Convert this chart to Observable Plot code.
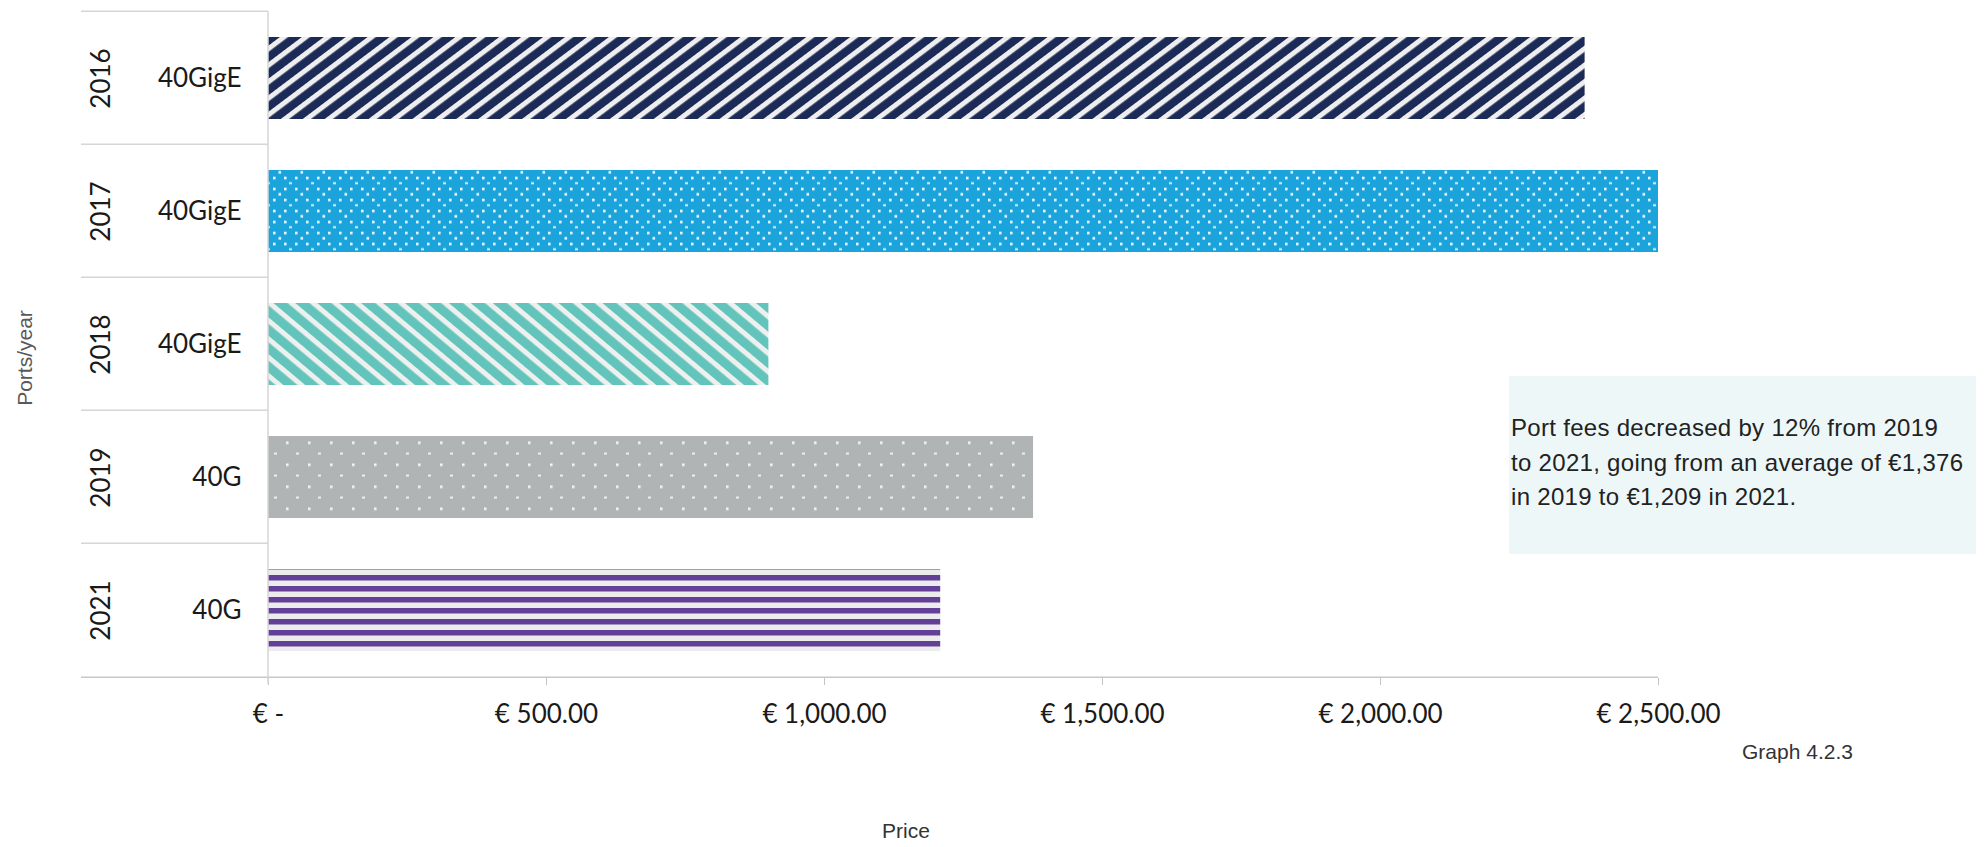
<!DOCTYPE html>
<html>
<head>
<meta charset="utf-8">
<script src="https://cdn.jsdelivr.net/npm/d3@7"></script>
<script src="https://cdn.jsdelivr.net/npm/@observablehq/plot@0.6"></script>
<style>
  html, body { margin: 0; padding: 0; background: #fff; }
  #wrap { position: relative; width: 1987px; height: 847px; overflow: hidden; background: #fff; }
  #chart svg { display: block; }
  .lbl { position: absolute; font-family: "Liberation Sans", Arial, sans-serif; white-space: nowrap; line-height: 20px; }
  #ytitle { left: 25px; top: 358px; font-size: 21px; color: #595959; transform: translate(-50%, -50%) rotate(-90deg); }
  #xtitle { left: 906px; top: 821px; font-size: 21px; color: #333; transform: translateX(-50%); }
  #caption { left: 1742px; top: 742px; font-size: 21px; color: #333; }
  #note { position: absolute; left: 1509px; top: 376px; width: 467px; height: 178px; background: #eef7f8;
          font-family: "Liberation Sans", Arial, sans-serif; font-size: 24px; letter-spacing: 0.3px; line-height: 34.5px;
          color: #222; box-sizing: border-box; padding: 35px 0 0 2px; white-space: nowrap; }
</style>
</head>
<body>
<div id="wrap">
  <div id="chart"></div>
  <div id="ytitle" class="lbl"></div>
  <div id="xtitle" class="lbl"></div>
  <div id="caption" class="lbl"></div>
  <div id="note"></div>
</div>
<script>
// ---- data ----
const years  = ["2016", "2017", "2018", "2019", "2021"];
const ports  = ["40GigE", "40GigE", "40GigE", "40G", "40G"];
const prices = [2368, 2500, 900, 1376, 1209];
const xTicks = [0, 500, 1000, 1500, 2000, 2500];
const yTitle = "Ports/year";
const xTitle = "Price";
const caption = "Graph 4.2.3";
const noteLines = [
  "Port fees decreased by 12% from 2019",
  "to 2021, going from an average of €1,376",
  "in 2019 to €1,209 in 2021."
];
const baseColors = ["#1b2a56", "#1ba3dc", "#62c4ba", "#b1b4b5", "#633f98"];

const data = years.map((year, i) => ({year, port: ports[i], price: prices[i]}));

const W = 1987, H = 847;
const plot = Plot.plot({
  width: W,
  height: H,
  marginLeft: 268,
  marginRight: 329,
  marginTop: 10,
  marginBottom: 169,
  style: {fontFamily: "Lato, 'Open Sans', sans-serif", fontSize: "26px", color: "#1a1a1a", background: "transparent"},
  x: {
    domain: [0, 2500],
    ticks: xTicks,
    tickFormat: d => d === 0 ? "€ -" : "€ " + d3.format(",.2f")(d),
    tickSize: 7,
    tickPadding: 19,
    label: null
  },
  y: {domain: years, paddingInner: 0.386, paddingOuter: 0.193, axis: null, label: null},
  color: {domain: years, range: years.map(y => `url(#pat${y})`)},
  marks: [
    Plot.barX(data, {x: "price", y: "year", fill: "year"}),
    Plot.text(data, {y: "year", text: "year", frameAnchor: "left", dx: -167, rotate: -90, textAnchor: "middle", lineAnchor: "middle", fontSize: 26, fill: "#1a1a1a"}),
    Plot.text(data, {y: "year", text: "port", frameAnchor: "left", dx: -27, textAnchor: "end", fontSize: 26, fill: "#1a1a1a"})
  ]
});

document.getElementById("chart").appendChild(plot);
const svg = d3.select(plot);

// ---- patterns ----
const defs = svg.insert("defs", ":first-child");
function stripes(id, color, light, angle, period, lightW) {
  const p = defs.append("pattern").attr("id", id).attr("patternUnits", "userSpaceOnUse")
    .attr("width", 10).attr("height", period).attr("patternTransform", `rotate(${angle})`);
  p.append("rect").attr("width", 10).attr("height", period).attr("fill", color);
  p.append("rect").attr("width", 10).attr("height", lightW).attr("fill", light);
}
// 2016: navy, upward diagonal
stripes("pat2016", baseColors[0], "#eeeeee", -37, 13.2, 5);
// 2018: teal, downward diagonal
stripes("pat2018", baseColors[2], "#eef0ef", 40, 14.1, 5);
// 2021: purple horizontal stripes
{
  const p = defs.append("pattern").attr("id", "pat2021").attr("patternUnits", "userSpaceOnUse")
    .attr("width", 10).attr("height", 11).attr("y", 3);
  p.append("rect").attr("width", 10).attr("height", 11).attr("fill", "#ececec");
  p.append("rect").attr("width", 10).attr("height", 5.5).attr("fill", baseColors[4]);
}
// 2017: blue with dotted grid
{
  const p = defs.append("pattern").attr("id", "pat2017").attr("patternUnits", "userSpaceOnUse")
    .attr("width", 22).attr("height", 22).attr("x", 9).attr("y", 0.7);
  p.append("rect").attr("width", 22).attr("height", 22).attr("fill", baseColors[1]);
  const dot = "#eef7fb";
  [[0,0],[11,0],[0,11],[11,11],[5.5,16.3]].forEach(([x,y]) =>
    p.append("rect").attr("x", x).attr("y", y).attr("width", 2.6).attr("height", 2.6).attr("fill", dot));
  p.append("rect").attr("x", 16).attr("y", 5.6).attr("width", 3).attr("height", 1.8).attr("fill", dot);
}
// 2019: grey with sparse dots
{
  const p = defs.append("pattern").attr("id", "pat2019").attr("patternUnits", "userSpaceOnUse")
    .attr("width", 22).attr("height", 22).attr("x", 0).attr("y", 1.5);
  p.append("rect").attr("width", 22).attr("height", 22).attr("fill", baseColors[3]);
  p.append("rect").attr("x", 0).attr("y", 0).attr("width", 2.6).attr("height", 2.6).attr("fill", "#f4f4f4");
  p.append("rect").attr("x", 10).attr("y", 11.2).attr("width", 3).attr("height", 1.8).attr("fill", "#f4f4f4");
}

// ---- table frame lines, built from the plot's own scales ----
const ys = plot.scale("y");
const xs = plot.scale("x");
const yb = d3.scaleBand().domain(ys.domain).range(ys.range)
  .paddingInner(ys.paddingInner ?? ys.padding ?? 0).paddingOuter(ys.paddingOuter ?? ys.padding ?? 0)
  .align(ys.align ?? 0.5).round(!!ys.round);
const xl = d3.scaleLinear().domain(xs.domain).range(xs.range);
const step = yb.step();
const half = (ys.paddingInner ?? 0) * step / 2;
const x0 = xl(xs.domain[0]);
const xEnd = xl(xs.domain[1]);
const tableLeft = x0 - 187;
const bounds = years.map(y => yb(y) - half);
const bottom = yb(years[years.length - 1]) + yb.bandwidth() + half;
const g = svg.append("g").attr("stroke", "#d6d6d6").attr("stroke-width", 1.5).attr("fill", "none");
bounds.forEach(b => g.append("line").attr("x1", tableLeft).attr("x2", x0).attr("y1", b).attr("y2", b));
g.append("line").attr("x1", tableLeft).attr("x2", xEnd).attr("y1", bottom + 0.5).attr("y2", bottom + 0.5).attr("stroke", "#c8c8c8");
g.append("line").attr("x1", x0).attr("x2", x0).attr("y1", bounds[0]).attr("y2", bottom + 7);

// ---- axis styling ----
svg.selectAll('g[aria-label^="x-axis"]').each(function() {
  const a = d3.select(this);
  a.selectAll("line, path").attr("stroke", "#c4c4c4");
  a.selectAll("text").attr("fill", "#1a1a1a").attr("font-size", 26);
});

// ---- texts ----
document.getElementById("ytitle").textContent = yTitle;
document.getElementById("xtitle").textContent = xTitle;
document.getElementById("caption").textContent = caption;
document.getElementById("note").innerHTML = noteLines.map(s => `<div>${s}</div>`).join("");
</script>
</body>
</html>
